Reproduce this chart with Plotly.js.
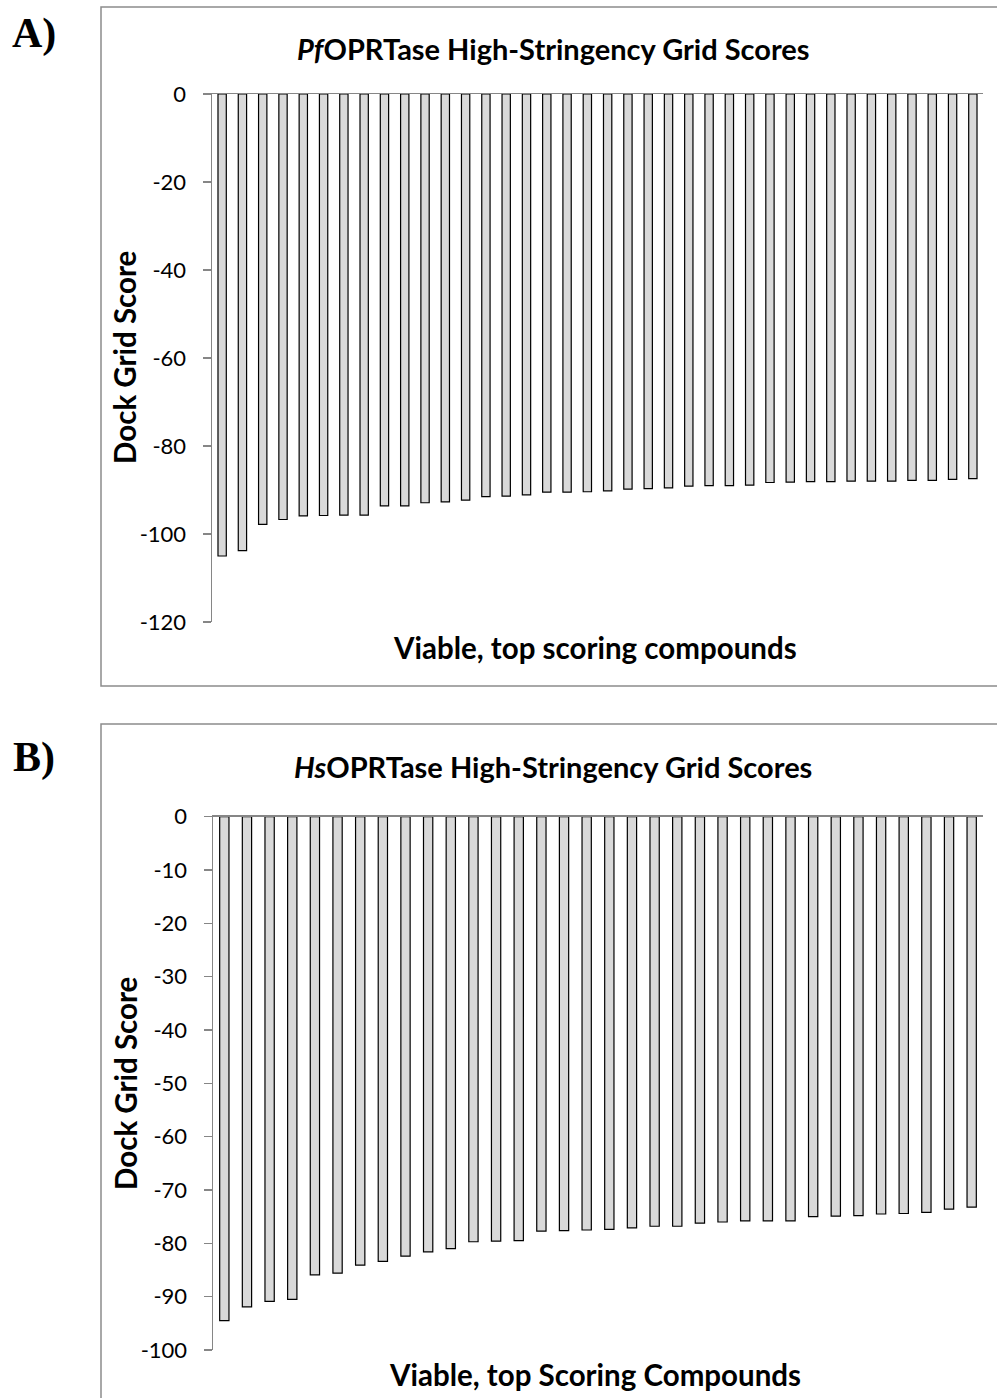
<!DOCTYPE html>
<html>
<head>
<meta charset="utf-8">
<script src="https://cdn.plot.ly/plotly-3.0.1.min.js"></script>
<style>html,body{margin:0;padding:0;background:#fff;}#chart{width:997px;height:1398px;}</style>
</head>
<body>
<div id="chart"></div>
<script>
// Panel A: PfOPRTase scores (38 compounds)
const pfCompounds = ["1","2","3","4","5","6","7","8","9","10","11","12","13","14","15","16","17","18","19","20","21","22","23","24","25","26","27","28","29","30","31","32","33","34","35","36","37","38"];
const pfScores = [-105.0,-103.8,-97.8,-96.7,-95.9,-95.8,-95.7,-95.7,-93.6,-93.6,-92.9,-92.7,-92.3,-91.5,-91.4,-91.1,-90.5,-90.5,-90.4,-90.2,-89.8,-89.7,-89.5,-89.1,-89.0,-89.0,-88.9,-88.3,-88.2,-88.1,-88.1,-88.0,-88.0,-88.0,-87.8,-87.8,-87.6,-87.4];
const pfTicks = [0,-20,-40,-60,-80,-100,-120];

// Panel B: HsOPRTase scores (34 compounds)
const hsCompounds = ["1","2","3","4","5","6","7","8","9","10","11","12","13","14","15","16","17","18","19","20","21","22","23","24","25","26","27","28","29","30","31","32","33","34"];
const hsScores = [-94.5,-91.9,-90.9,-90.5,-85.9,-85.6,-84.1,-83.4,-82.4,-81.6,-81.0,-79.7,-79.6,-79.5,-77.7,-77.6,-77.5,-77.4,-77.1,-76.8,-76.8,-76.2,-76.0,-75.8,-75.8,-75.8,-75.0,-74.9,-74.8,-74.5,-74.4,-74.2,-73.6,-73.2];
const hsTicks = [0,-10,-20,-30,-40,-50,-60,-70,-80,-90,-100];

const W = 997, H = 1398;
const px = x => x / W;
const py = y => 1 - y / H;

const barStyle = {color:'#d9d9d9', line:{color:'#000000', width:1.2}};
const traces = [
  {type:'bar', x:pfCompounds, y:pfScores, marker:barStyle, xaxis:'x', yaxis:'y', hoverinfo:'y', showlegend:false},
  {type:'bar', x:hsCompounds, y:hsScores, marker:barStyle, xaxis:'x2', yaxis:'y2', hoverinfo:'y', showlegend:false}
];

const tickFont = {family:'Lato, "Open Sans", sans-serif', size:22, color:'#000'};
const axGray = '#868686';
function xAx(domain, anchor){
  return {domain:domain, anchor:anchor, side:'top', showline:true, linecolor:axGray, linewidth:1.5,
    showticklabels:false, ticks:'', showgrid:false, zeroline:false, fixedrange:true};
}
function yAx(domain, anchor, range, ticks){
  return {domain:domain, anchor:anchor, range:range, tickvals:ticks, ticktext:ticks.map(String), ticks:'outside',
    ticklen:8, tickcolor:axGray, tickwidth:1.5, showline:true, linecolor:axGray, linewidth:1.5,
    showgrid:false, zeroline:false, tickfont:tickFont, ticklabelstandoff:12, fixedrange:true};
}

const titleFont = {family:'Lato, "Open Sans", sans-serif', size:29, color:'#000'};
const axTitleFont = {family:'Lato, "Open Sans", sans-serif', size:29.5, color:'#000'};
const panelFont = {family:'"Liberation Serif", "DejaVu Serif", serif', size:42, color:'#000'};

function ann(text, x, y, font, extra){
  return Object.assign({text:text, x:px(x), y:py(y), xref:'paper', yref:'paper', showarrow:false,
    font:font, xanchor:'center', yanchor:'middle'}, extra||{});
}

const layout = {
  width:W, height:H, margin:{l:0,r:0,t:0,b:0}, paper_bgcolor:'#fff', plot_bgcolor:'rgba(0,0,0,0)',
  bargap:0.59, showlegend:false,
  xaxis: xAx([px(212), px(983)], 'y'),
  yaxis: yAx([py(622), py(94)], 'x', [-120, 0], pfTicks),
  xaxis2: xAx([px(213), px(983)], 'y2'),
  yaxis2: yAx([py(1350), py(816.7)], 'x2', [-100, 0], hsTicks),
  shapes:[
    {type:'rect', xref:'paper', yref:'paper', x0:px(101), x1:px(1005), y0:py(686), y1:py(7), line:{color:'#8c8c8c', width:1.5}, fillcolor:'rgba(0,0,0,0)'},
    {type:'rect', xref:'paper', yref:'paper', x0:px(101), x1:px(1005), y0:py(1410), y1:py(724), line:{color:'#8c8c8c', width:1.5}, fillcolor:'rgba(0,0,0,0)'}
  ],
  annotations:[
    ann('<b>A)</b>', 34, 33, panelFont),
    ann('<b>B)</b>', 34, 757, panelFont),
    ann('<b><i>Pf</i>OPRTase High-Stringency Grid Scores</b>', 553, 48, titleFont),
    ann('<b><i>Hs</i>OPRTase High-Stringency Grid Scores</b>', 553, 766, titleFont),
    ann('<b>Dock Grid Score</b>', 125, 358, axTitleFont, {textangle:-90}),
    ann('<b>Dock Grid Score</b>', 125, 1084, axTitleFont, {textangle:-90}),
    ann('<b>Viable, top scoring compounds</b>', 595, 647, axTitleFont),
    ann('<b>Viable, top Scoring Compounds</b>', 595, 1374, axTitleFont)
  ]
};

Plotly.newPlot('chart', traces, layout, {staticPlot:true, displayModeBar:false});
</script>
</body>
</html>
